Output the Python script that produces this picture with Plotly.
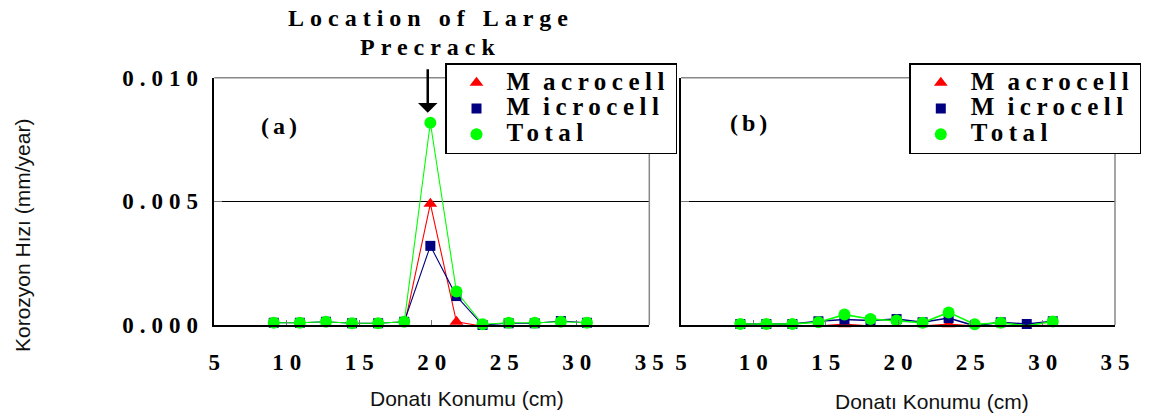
import plotly.graph_objects as go

# ---------------- data ----------------
positions = [9.1, 10.9, 12.7, 14.5, 16.3, 18.1, 19.9, 21.7, 23.5, 25.3, 27.1, 28.9, 30.7]

a_macro = [-0.00005, -0.00005, -0.00005, -0.00005, -0.00005, -0.00005, 0.0049, 0.00013,
           -0.00005, -0.00005, -0.00005, -0.00005, -0.00005]
a_micro = [0.00009, 0.00009, 0.00013, 0.00007, 0.00007, 0.00013, 0.0032, 0.00117,
           0.0, 0.00007, 0.00007, 0.00016, 0.00009]
a_total = [0.00009, 0.00009, 0.00013, 0.00007, 0.00007, 0.00013, 0.00818, 0.00135,
           0.00003, 0.00009, 0.00009, 0.00013, 0.00009]

b_macro = [-0.00005, -0.00005, -0.00005, -0.00005, 0.00003, -0.00005, -0.00003, -0.00005,
           0.00003, -0.00005, -0.00005, -0.00002, -0.00002]
b_micro = [0.00004, 0.00004, 0.00004, 0.00015, 0.00022, 0.00018, 0.00024, 0.00011,
           0.00028, -0.00003, 0.00011, 0.00004, 0.00015]
b_total = [0.00004, 0.00004, 0.00004, 0.00011, 0.00042, 0.00024, 0.00018, 0.00009,
           0.00051, 0.00003, 0.00009, -0.00003, 0.00014]

series_names = ["Macrocell", "Microcell", "Total"]
x_tickvals = [5, 10, 15, 20, 25, 30, 35]
y_tickvals = [0.0, 0.005, 0.010]
y_ticktext = ["0.000", "0.005", "0.010"]
x_title = "Donatı Konumu (cm)"
y_title = "Korozyon Hızı (mm/year)"
crack_label = ["Location of Large", "Precrack"]
panel_labels = ["(a)", "(b)"]

# ---------------- styles ----------------
W, H = 1150, 417
SERIF = "Liberation Serif"
SANS = "Liberation Sans"
COL = {"Macrocell": "#FF0000", "Microcell": "#000080", "Total": "#00FF00"}
SYM = {"Macrocell": "triangle-up", "Microcell": "square", "Total": "circle"}
SIZE = {"Macrocell": 12, "Microcell": 10, "Total": 12}


def spaced(text, ls, size=None):
    st = "letter-spacing:%spx" % ls
    if size:
        st = "font-size:%spx;" % size + st
    return '<span style="%s">%s</span>' % (st, text)


def legend_name(name):
    if name.startswith("M"):
        return spaced(name[0], 13, 25) + spaced(name[1:], 5.5, 25)
    return spaced(name, 5.5, 25)


def px(xp):
    return xp / W


def py(yp):
    return 1 - yp / H


fig = go.Figure()

panels = [
    ("x", "y", "legend", [a_macro, a_micro, a_total], 1.1),
    ("x2", "y2", "legend2", [b_macro, b_micro, b_total], 1.6),
]
for xa, ya, lg, vals, lw in panels:
    for name, v in zip(series_names, vals):
        fig.add_trace(go.Scatter(
            x=positions, y=v, name=name, mode="lines+markers",
            xaxis=xa, yaxis=ya, showlegend=False, cliponaxis=False,
            line=dict(color=COL[name], width=lw),
            marker=dict(symbol=SYM[name], size=SIZE[name], color=COL[name], line=dict(width=0)),
        ))
    # legend entries: markers only, like the reference key
    for name in series_names:
        fig.add_trace(go.Scatter(
            x=[None], y=[None], name=legend_name(name), mode="markers",
            xaxis=xa, yaxis=ya, legend=lg, showlegend=True,
            marker=dict(symbol=SYM[name], size=SIZE[name], color=COL[name], line=dict(width=0)),
        ))

xdom_a = [px(214.3), px(649.3)]
xdom_b = [px(681), px(1115)]
ydom = [py(325), py(77.7)]

tickfont = dict(family=SERIF, size=23, color="black", weight="bold")
x_ticktext = [spaced(str(v), 6) for v in x_tickvals]
y_tt = [spaced(t, 6) for t in y_ticktext]

common_x = dict(range=[5, 35], tickvals=x_tickvals, ticktext=x_ticktext, tickfont=tickfont,
                showline=True, linecolor="black", linewidth=1.5, mirror=False,
                ticks="inside", ticklen=5, tickcolor="#777", showgrid=False, zeroline=False,
                ticklabelstandoff=16, ticklabelshift=3, automargin=False)
common_y = dict(range=[0, 0.010], tickvals=y_tickvals, ticktext=y_tt, tickfont=tickfont,
                showline=True, linecolor="black", linewidth=1.5, mirror=False,
                ticks="inside", ticklen=8, tickcolor="#777",
                showgrid=True, gridcolor="black", gridwidth=1, zeroline=False,
                ticklabelstandoff=4, automargin=False)

legend_common = dict(xanchor="left", yanchor="top", bordercolor="black", borderwidth=1.5,
                     bgcolor="white", font=dict(family=SERIF, size=17.5, color="black", weight="bold"),
                     itemwidth=50, tracegroupgap=0)

fig.update_layout(
    width=W, height=H, autosize=False,
    margin=dict(l=0, r=0, t=0, b=0, pad=0),
    paper_bgcolor="white", plot_bgcolor="white",
    xaxis=dict(domain=xdom_a, anchor="y", **common_x),
    yaxis=dict(domain=ydom, anchor="x", **common_y),
    xaxis2=dict(domain=xdom_b, anchor="y2", **common_x),
    yaxis2=dict(domain=ydom, anchor="x2", showticklabels=False, **common_y),
    legend=dict(x=px(445), y=py(63.3), **legend_common),
    legend2=dict(x=px(909.3), y=py(63.3), **legend_common),
    showlegend=True,
)

# gray top/right frame lines
for xr, yr in [("x domain", "y domain"), ("x2 domain", "y2 domain")]:
    fig.add_shape(type="line", xref=xr, yref=yr, x0=0, x1=1, y0=1, y1=1,
                  line=dict(color="#888", width=1.5))
    fig.add_shape(type="line", xref=xr, yref=yr, x0=1, x1=1, y0=0, y1=1,
                  line=dict(color="#888", width=1.5))

bold_serif = dict(family=SERIF, size=24, color="black", weight="bold")


def note(xp, yp, text, font, **kw):
    fig.add_annotation(x=px(xp), y=py(yp), xref="paper", yref="paper", showarrow=False,
                       text=text, font=font, xanchor="center", yanchor="middle", **kw)


# crack annotation text
note(430.5, 18, spaced(crack_label[0], 6), bold_serif)
note(430.5, 47, spaced(crack_label[1], 6), bold_serif)
# arrow
fig.add_annotation(x=19.72, y=0.00858, xref="x", yref="y", text="", showarrow=True,
                   ax=0, ay=-45, arrowhead=1, arrowsize=1.3, arrowwidth=2.5,
                   arrowcolor="black", standoff=0)

# panel labels
note(280.5, 126, spaced(panel_labels[0], 4), bold_serif)
note(750, 123.3, spaced(panel_labels[1], 4), bold_serif)

# axis titles
sans = dict(family=SANS, size=21, color="#111")
note(466.5, 398, x_title, sans)
note(931.7, 401.7, x_title, sans)
note(22.5, 235.5, y_title, sans, textangle=-90)

fig.write_html("out.html")
